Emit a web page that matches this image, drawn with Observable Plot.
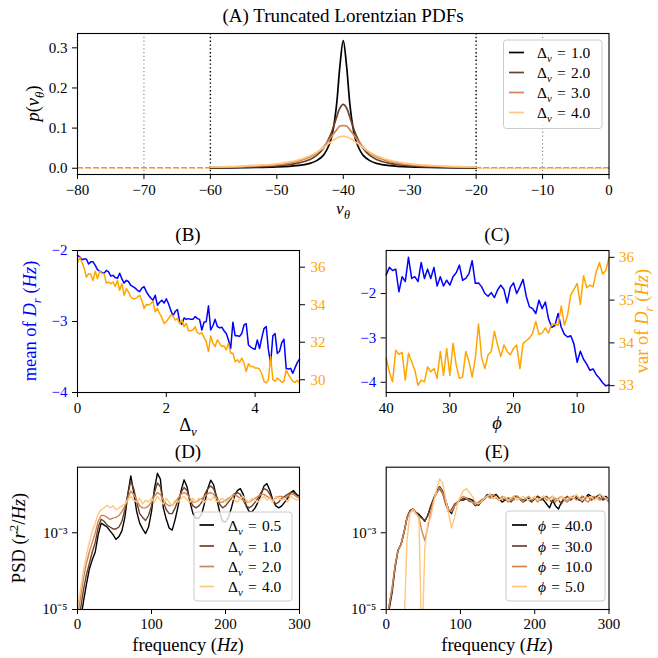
<!DOCTYPE html>
<html><head><meta charset="utf-8">
<script src="https://cdn.jsdelivr.net/npm/d3@7"></script>
<script src="https://cdn.jsdelivr.net/npm/@observablehq/plot@0.6"></script>
<style>
body{margin:0;background:#fff;}
#fig{position:relative;width:658px;height:658px;overflow:hidden;}
#fig svg{position:absolute;left:0;top:0;}
</style></head><body><div id="fig"></div>
<script>
// ---------- Panel A data ----------
const vTheta = [-60,-55,-50,-47,-45,-44,-43,-42,-41.5,-41,-40.5,-40,-39.5,-39,-38.5,-38,-37,-36,-35,-33,-30,-25,-20];
const pDv1 = [0.0008,0.0014,0.0032,0.0064,0.012,0.019,0.032,0.064,0.098,0.159,0.255,0.318,0.255,0.159,0.098,0.064,0.032,0.019,0.012,0.0064,0.0032,0.0014,0.0008];
const pDv2 = [0.0016,0.0028,0.0061,0.012,0.022,0.032,0.049,0.080,0.102,0.127,0.150,0.159,0.150,0.127,0.102,0.080,0.049,0.032,0.022,0.012,0.0061,0.0028,0.0016];
const pDv3 = [0.0024,0.0041,0.0088,0.0165,0.028,0.038,0.053,0.0735,0.085,0.0955,0.105,0.106,0.105,0.0955,0.085,0.0735,0.053,0.038,0.028,0.0165,0.0088,0.0041,0.0024];
const pDv4 = [0.0031,0.0053,0.011,0.0196,0.031,0.0398,0.051,0.0637,0.0697,0.0749,0.0784,0.080,0.0784,0.0749,0.0697,0.0637,0.051,0.0398,0.031,0.0196,0.011,0.0053,0.0031];
const dvLabelsA = ["1.0","2.0","3.0","4.0"];
const vRange = [-80, 0];
const truncBounds = [-60, -20];
const outerBounds = [-70, -10];
const vTicks = [-80,-70,-60,-50,-40,-30,-20,-10,0];
const pTicks = [0, 0.1, 0.2, 0.3];

// ---------- Panel B data ----------
const dvB = [0,0.05,0.1,0.15,0.2,0.25,0.3,0.35,0.4,0.45,0.5,0.55,0.6,0.65,0.7,0.75,0.8,0.85,0.9,0.95,
 1,1.05,1.1,1.15,1.2,1.25,1.3,1.35,1.4,1.45,1.5,1.55,1.6,1.65,1.7,1.75,1.8,1.85,1.9,1.95,
 2,2.05,2.1,2.15,2.2,2.25,2.3,2.35,2.4,2.45,2.5,2.55,2.6,2.65,2.7,2.75,2.8,2.85,2.9,2.95,
 3,3.05,3.1,3.15,3.2,3.25,3.3,3.35,3.4,3.45,3.5,3.55,3.6,3.65,3.7,3.75,3.8,3.85,3.9,3.95,
 4,4.05,4.1,4.15,4.2,4.25,4.3,4.35,4.4,4.45,4.5,4.55,4.6,4.65,4.7,4.75,4.8,4.85,4.9,4.95,5];
const meanDrB = [-2.07,-2.09,-2.13,-2.12,-2.12,-2.19,-2.16,-2.16,-2.21,-2.27,
 -2.29,-2.31,-2.32,-2.28,-2.30,-2.36,-2.35,-2.38,-2.39,-2.32,
 -2.40,-2.46,-2.42,-2.44,-2.49,-2.51,-2.53,-2.56,-2.58,-2.53,
 -2.51,-2.58,-2.63,-2.67,-2.70,-2.63,-2.77,-2.73,-2.70,-2.74,
 -2.68,-2.75,-2.84,-2.92,-2.86,-2.83,-3.00,-3.04,-2.95,-2.97,
 -2.96,-2.97,-2.97,-2.93,-2.96,-2.97,-3.12,-3.01,-3.00,-2.78,
 -3.12,-3.06,-2.97,-3.07,-3.09,-3.08,-3.13,-3.17,-3.26,-3.38,
 -3.01,-3.20,-3.20,-3.21,-3.17,-3.05,-3.03,-3.33,-3.36,-3.38,
 -3.39,-3.26,-3.38,-3.23,-3.10,-3.07,-3.40,-3.59,-3.20,-3.17,
 -3.45,-3.42,-3.30,-3.25,-3.66,-3.67,-3.66,-3.73,-3.65,-3.58,-3.53];
const varDrB = [36.26,36.53,36.26,35.96,35.47,35.65,35.61,35.29,35.79,35.38,
 35.79,35.68,35.65,35.15,35.21,35.12,35.21,34.98,35.29,34.77,
 35.12,34.50,34.85,34.68,34.41,34.32,34.32,34.41,34.50,34.24,
 33.80,34.02,33.97,34.06,34.20,33.62,33.80,33.53,33.32,33.00,
 33.09,33.27,33.44,33.44,33.18,33.27,33.00,33.18,32.83,33.00,
 32.61,32.61,32.65,32.83,32.51,32.44,32.51,32.26,32.03,31.50,
 32.33,31.94,31.77,32.12,31.94,31.77,31.80,31.59,31.94,31.41,
 31.41,30.97,31.06,30.92,31.15,30.89,30.44,30.85,30.71,30.71,
 30.62,30.62,30.57,30.32,29.92,29.83,30.00,31.24,30.00,29.92,
 30.09,30.00,29.86,29.92,30.53,30.27,30.09,29.92,29.86,29.97,29.83];
const dvTicksB = [0, 2, 4];
const meanTicksB = [-4, -3, -2];
const varTicksB = [30, 32, 34, 36];

// ---------- Panel C data ----------
const phiC = [40,39.5,39,38.5,38,37.5,37,36.5,36,35.5,35,34.5,34,33.5,33,32.5,32,31.5,31,30.5,
 30,29.5,29,28.5,28,27.5,27,26.5,26,25.5,25,24.5,24,23.5,23,22.5,22,21.5,21,20.5,
 20,19.5,19,18.5,18,17.5,17,16.5,16,15.5,15,14.5,14,13.5,13,12.5,12,11.5,11,10.5,
 10,9.5,9,8.5,8,7.5,7,6.5,6,5.5,5];
const meanDrC = [-1.58,-1.41,-1.48,-1.45,-1.96,-1.62,-1.73,-1.18,-1.66,-1.62,
 -1.73,-1.30,-1.66,-1.45,-1.66,-1.41,-1.83,-1.62,-1.83,-1.70,
 -1.81,-1.62,-1.53,-1.36,-1.70,-1.66,-1.55,-1.26,-1.77,-1.76,
 -1.85,-2.00,-2.06,-1.98,-2.09,-1.92,-1.81,-1.91,-2.21,-1.86,
 -1.76,-2.00,-1.85,-1.68,-2.06,-2.30,-2.34,-2.45,-2.15,-2.34,
 -2.19,-2.57,-2.76,-2.72,-2.45,-2.76,-2.92,-2.98,-2.95,-3.14,
 -3.55,-3.30,-3.48,-3.59,-3.73,-3.70,-3.83,-3.91,-4.01,-4.08,-4.06];
const varDrC = [33.64,33.32,33.09,33.83,33.73,33.78,33.13,33.76,33.56,33.36,
 33.01,33.13,33.09,33.44,33.32,33.40,33.17,33.80,33.24,33.87,
 33.24,33.99,33.48,33.17,33.20,33.80,33.56,33.20,33.64,34.44,
 33.65,33.40,33.72,33.80,34.27,33.95,33.68,33.95,33.80,33.72,
 33.87,33.95,33.40,33.99,34.05,34.11,34.23,34.50,34.20,34.23,
 34.35,34.23,34.44,34.44,34.41,34.86,34.41,34.66,35.13,35.25,
 35.39,34.90,35.57,35.29,35.35,35.31,35.67,35.88,35.61,35.69,36.00];
const phiTicksC = [40, 30, 20, 10];
const meanTicksC = [-4, -3, -2];
const varTicksC = [33, 34, 35, 36];

// ---------- Panels D & E data (PSD, stored as log10 values) ----------
const freqHz = [0,4,8,12,16,20,24,28,32,36,40,44,48,52,56,60,64,68,72,76,
 80,84,88,92,96,100,104,108,112,116,120,124,128,132,136,140,144,148,152,156,
 160,164,168,172,176,180,184,188,192,196,200,204,208,212,216,220,224,228,232,236,
 240,244,248,252,256,260,264,268,272,276,280,284,288,292,296,300];
const psdLog_dv05 = [-5.5,-5.3,-4.8,-4.35,-3.95,-3.7,-3.5,-3.05,-2.75,-2.8,
 -2.85,-2.95,-3.05,-3.17,-3.1,-2.95,-2.6,-2.0,-1.52,-1.95,
 -2.45,-2.75,-2.9,-3.02,-2.85,-2.45,-1.85,-1.45,-1.6,-2.35,
 -2.65,-2.88,-2.93,-2.65,-2.3,-1.9,-1.62,-1.8,-2.2,-2.5,
 -2.62,-2.62,-2.5,-2.2,-1.85,-1.63,-1.75,-2.1,-2.45,-2.7,
 -2.72,-2.6,-2.35,-2.05,-1.9,-1.85,-2.0,-2.3,-2.45,-2.45,
 -2.35,-2.2,-2.0,-1.78,-1.72,-1.9,-2.15,-2.3,-2.35,-2.3,
 -2.2,-2.1,-1.95,-1.9,-2.0,-2.05];
const psdLog_dv10 = [-5.5,-5.0,-4.5,-4.1,-3.8,-3.5,-3.25,-2.85,-2.65,-2.7,
 -2.8,-2.85,-2.9,-2.9,-2.85,-2.7,-2.4,-2.0,-1.65,-1.85,
 -2.2,-2.5,-2.6,-2.68,-2.55,-2.3,-1.95,-1.7,-1.8,-2.2,
 -2.4,-2.5,-2.5,-2.35,-2.15,-1.95,-1.82,-1.9,-2.15,-2.3,
 -2.35,-2.3,-2.2,-2.0,-1.85,-1.78,-1.85,-2.05,-2.25,-2.35,
 -2.3,-2.2,-2.1,-1.98,-1.95,-2.0,-2.15,-2.3,-2.35,-2.3,
 -2.2,-2.1,-1.95,-1.85,-1.88,-2.0,-2.15,-2.25,-2.2,-2.1,
 -2.05,-2.0,-1.95,-1.95,-2.05,-2.1];
const psdLog_dv20 = [-5.2,-4.7,-4.2,-3.8,-3.5,-3.25,-3.0,-2.7,-2.55,-2.55,
 -2.6,-2.65,-2.62,-2.6,-2.55,-2.45,-2.3,-2.1,-1.92,-2.0,
 -2.15,-2.3,-2.35,-2.35,-2.3,-2.2,-2.05,-1.95,-2.0,-2.15,
 -2.25,-2.3,-2.28,-2.2,-2.1,-2.0,-1.95,-2.0,-2.1,-2.2,
 -2.2,-2.15,-2.1,-2.05,-1.98,-1.95,-2.0,-2.1,-2.2,-2.2,
 -2.15,-2.1,-2.05,-2.0,-2.05,-2.1,-2.15,-2.2,-2.2,-2.15,
 -2.1,-2.05,-2.0,-2.0,-2.05,-2.1,-2.15,-2.1,-2.05,-2.05,
 -2.1,-2.05,-2.0,-2.0,-2.05,-2.1];
const psdLog_dv40 = [-4.9,-4.5,-4.0,-3.6,-3.25,-2.95,-2.75,-2.5,-2.4,-2.35,
 -2.28,-2.35,-2.3,-2.4,-2.35,-2.3,-2.25,-2.15,-2.05,-2.15,
 -2.2,-2.1,-2.25,-2.15,-2.2,-2.1,-2.2,-2.05,-2.15,-2.25,
 -2.1,-2.2,-2.3,-2.15,-2.2,-2.1,-2.05,-2.15,-2.2,-2.1,
 -2.2,-2.1,-2.15,-2.2,-2.1,-2.15,-2.05,-2.2,-2.15,-2.1,
 -2.2,-2.15,-2.05,-2.15,-2.2,-2.1,-2.05,-2.15,-2.2,-2.1,
 -2.15,-2.2,-2.1,-2.05,-2.15,-2.1,-2.2,-2.05,-2.1,-2.15,
 -2.1,-2.2,-2.05,-2.1,-2.15,-2.1];
const psdLog_phi40 = [-5.5,-5.0,-4.55,-3.9,-3.45,-3.3,-3.0,-2.6,-2.42,-2.38,
 -2.47,-2.52,-2.6,-2.7,-2.55,-2.3,-2.1,-1.92,-1.8,-1.92,
 -2.15,-2.4,-2.5,-2.3,-2.2,-2.15,-2.15,-2.1,-2.12,-2.15,
 -2.2,-2.28,-2.2,-2.12,-2.05,-2.0,-2.05,-2.0,-2.1,-2.2,
 -2.15,-2.1,-2.12,-2.05,-2.05,-2.12,-2.2,-2.15,-2.1,-2.18,
 -2.12,-2.05,-2.1,-2.15,-2.25,-2.35,-2.15,-2.3,-2.38,-2.2,
 -2.1,-2.15,-2.1,-2.05,-2.1,-2.15,-2.05,-2.1,-2.0,-2.05,
 -2.1,-2.05,-2.0,-2.1,-2.05,-2.15];
const psdLog_phi30 = [-5.4,-4.9,-4.45,-3.85,-3.45,-3.3,-2.98,-2.62,-2.45,-2.4,
 -2.5,-2.55,-2.62,-2.68,-2.55,-2.32,-2.12,-1.95,-1.85,-1.98,
 -2.25,-2.45,-2.4,-2.25,-2.2,-2.15,-2.1,-2.12,-2.18,-2.2,
 -2.3,-2.25,-2.15,-2.1,-2.0,-2.05,-2.1,-2.05,-2.15,-2.1,
 -2.15,-2.1,-2.2,-2.1,-2.05,-2.1,-2.15,-2.1,-2.15,-2.2,
 -2.1,-2.05,-2.15,-2.1,-2.05,-2.15,-2.2,-2.1,-2.15,-2.25,
 -2.1,-2.05,-2.15,-2.1,-2.05,-2.1,-2.2,-2.1,-2.05,-2.15,
 -2.1,-2.05,-2.1,-2.15,-2.1,-2.2];
const psdLog_phi10 = [-5.4,-4.9,-4.45,-3.85,-3.45,-3.3,-3.0,-2.62,-2.45,-2.38,
 -2.48,-2.6,-2.95,-3.2,-2.85,-2.45,-2.15,-1.95,-1.82,-1.95,
 -2.2,-2.4,-2.45,-2.3,-2.2,-2.1,-2.05,-2.1,-2.15,-2.2,
 -2.25,-2.2,-2.15,-2.1,-2.05,-2.1,-2.0,-2.1,-2.15,-2.05,
 -2.1,-2.2,-2.1,-2.15,-2.05,-2.1,-2.2,-2.1,-2.05,-2.15,
 -2.1,-2.2,-2.1,-2.05,-2.15,-2.1,-2.05,-2.2,-2.1,-2.05,
 -2.15,-2.2,-2.1,-2.05,-2.15,-2.1,-2.05,-2.15,-2.2,-2.1,
 -2.05,-2.1,-2.15,-2.05,-2.1,-2.2];
const psdLog_phi5 = [-6,-6,-6,-6,-6,-6,-5.5,-3.2,-2.5,-2.4,
 -2.5,-2.6,-6,-3.4,-2.75,-2.6,-2.2,-1.85,-1.6,-1.7,
 -2.1,-2.5,-2.88,-2.6,-2.25,-2.05,-1.9,-1.85,-1.95,-2.05,
 -2.2,-2.25,-2.2,-2.1,-2.05,-2.0,-2.1,-2.05,-2.15,-2.1,
 -2.05,-2.15,-2.1,-2.05,-2.15,-2.1,-2.05,-2.1,-2.15,-2.1,
 -2.05,-2.15,-2.1,-2.05,-2.1,-2.15,-2.05,-2.1,-2.15,-2.05,
 -2.1,-2.15,-2.05,-2.1,-2.0,-2.1,-2.15,-2.05,-2.1,-2.05,
 -2.15,-2.1,-2.0,-2.05,-2.1,-2.15];
const dvLabelsD = ["0.5","1.0","2.0","4.0"];
const phiLabelsE = ["40.0","30.0","10.0","5.0"];
const freqTicks = [0, 100, 200, 300];
const psdTicks = [1e-5, 1e-3];
const psdDomain = [1e-5, 0.0512];

// ---------- styling ----------
const copper = ["#000000", "#6a4229", "#d48555", "#ffc77f"];
const FONT = '"Liberation Serif","Times New Roman",serif';
const TICK = 15, LAB = 18.5, TITLE = 19, LEG = 15.5;
const fig = document.getElementById("fig");
const minus = d => (d < 0 ? "\u2212" + Math.abs(d) : String(d));
const supMap = {"-":"\u207B","0":"\u2070","1":"\u00B9","2":"\u00B2","3":"\u00B3","4":"\u2074","5":"\u2075","6":"\u2076","7":"\u2077","8":"\u2078","9":"\u2079"};
const logFmt = d => "10" + String(Math.round(Math.log10(d))).split("").map(c => supMap[c]).join("");
const box = (l, r, t, b) => ({marginLeft: l, marginRight: 658 - r, marginTop: t, marginBottom: 658 - b});
function place(opts) {
  const svg = Plot.plot({width: 658, height: 658, ...opts,
    style: {background: "transparent", fontFamily: FONT, fontSize: TICK + "px", overflow: "visible"}});
  fig.appendChild(svg);
  return svg;
}
const ax = {tickSize: 5, tickPadding: 5, label: null, fontSize: TICK, tickFormat: minus};

// ---------- Panel A ----------
const rowsA = [pDv1, pDv2, pDv3, pDv4].flatMap((arr, k) => arr.map((p, i) => ({v: vTheta[i], p, s: dvLabelsA[k]})));
const segA = dvLabelsA.flatMap(s => [{a: vRange[0], b: truncBounds[0], p: 0, s}, {a: truncBounds[1], b: vRange[1], p: 0, s}]);
const A = box(77, 608.5, 33, 174);
place({...A,
  x: {domain: vRange}, y: {domain: [-0.0156, 0.3357]},
  color: {domain: dvLabelsA, range: copper},
  marks: [
    Plot.ruleX(outerBounds, {stroke: "#808080", strokeDasharray: "1.2,2.6", strokeWidth: 1.1}),
    Plot.ruleX(truncBounds, {stroke: "black", strokeDasharray: "1.4,2.4", strokeWidth: 1.4}),
    Plot.ruleY(segA, {x1: "a", x2: "b", y: "p", stroke: "s", strokeWidth: 1.6, strokeDasharray: "5.5,2.5"}),
    Plot.line(rowsA, {x: "v", y: "p", z: "s", stroke: "s", strokeWidth: 1.7, curve: "catmull-rom"}),
    Plot.axisX({...ax, ticks: vTicks, tickPadding: 5}),
    Plot.axisY({...ax, ticks: pTicks, tickFormat: d => d.toFixed(1)}),
    Plot.frame({stroke: "black", strokeWidth: 1.1})
  ]});

// ---------- Panel B ----------
const rowsB = dvB.map((d, i) => ({d, m: meanDrB[i], v: varDrB[i]}));
const B = box(77, 299, 250, 392);
place({...B, x: {domain: [0, 5]}, y: {domain: [-4, -2]},
  marks: [
    Plot.line(rowsB, {x: "d", y: "m", stroke: "blue", strokeWidth: 1.5}),
    Plot.axisX({...ax, ticks: dvTicksB}),
    Plot.axisY({...ax, anchor: "left", ticks: meanTicksB, fill: "blue", stroke: "black"})
  ]});
place({...B, x: {domain: [0, 5], axis: null}, y: {domain: [29.32, 36.89]},
  marks: [
    Plot.line(rowsB, {x: "d", y: "v", stroke: "orange", strokeWidth: 1.5}),
    Plot.axisY({...ax, anchor: "right", ticks: varTicksB, fill: "orange", stroke: "black", tickPadding: 6}),
    Plot.frame({stroke: "black", strokeWidth: 1.1})
  ]});

// ---------- Panel C ----------
const rowsC = phiC.map((p, i) => ({p, m: meanDrC[i], v: varDrC[i]}));
const C = box(385.7, 608.5, 250, 392);
place({...C, x: {domain: [40, 5]}, y: {domain: [-4.23, -1.03]},
  marks: [
    Plot.line(rowsC, {x: "p", y: "m", stroke: "blue", strokeWidth: 1.5}),
    Plot.axisX({...ax, ticks: phiTicksC}),
    Plot.axisY({...ax, anchor: "left", ticks: meanTicksC, fill: "blue", stroke: "black"})
  ]});
place({...C, x: {domain: [40, 5], axis: null}, y: {domain: [32.84, 36.16]},
  marks: [
    Plot.line(rowsC, {x: "p", y: "v", stroke: "orange", strokeWidth: 1.5}),
    Plot.axisY({...ax, anchor: "right", ticks: varTicksC, fill: "orange", stroke: "black", tickPadding: 5}),
    Plot.frame({stroke: "black", strokeWidth: 1.1})
  ]});

// ---------- Panels D & E ----------
function psdRows(series, labels) {
  return series.flatMap((arr, k) => arr.map((e, i) => ({f: freqHz[i], psd: Math.pow(10, e), s: labels[k]})));
}
const rowsD = psdRows([psdLog_dv05, psdLog_dv10, psdLog_dv20, psdLog_dv40], dvLabelsD);
const rowsE = psdRows([psdLog_phi40, psdLog_phi30, psdLog_phi10, psdLog_phi5], phiLabelsE);
function psdPanel(frame, rows, labels) {
  place({...frame, x: {domain: [0, 300]}, y: {type: "log", domain: psdDomain},
    color: {domain: labels, range: copper},
    marks: [
      Plot.line(rows, {x: "f", y: "psd", z: "s", stroke: "s", strokeWidth: 1.4, clip: true}),
      Plot.axisX({...ax, ticks: freqTicks, tickPadding: 4}),
      Plot.axisY({...ax, ticks: psdTicks, tickFormat: logFmt}),
      Plot.frame({stroke: "black", strokeWidth: 1.1})
    ]});
}
psdPanel(box(77, 299, 466.7, 609), rowsD, dvLabelsD);
psdPanel(box(385.7, 608.5, 466.7, 609), rowsE, phiLabelsE);

// ---------- Annotations: titles, axis labels, legends ----------
const ann = d3.select(fig).append("svg").attr("width", 658).attr("height", 658)
  .attr("font-family", FONT);
function rich(x, y, parts, {size = LAB, fill = "black", anchor = "middle", rotate = 0} = {}) {
  const t = ann.append("text").attr("transform", `translate(${x},${y}) rotate(${rotate})`)
    .attr("text-anchor", anchor).attr("font-size", size).attr("fill", fill);
  let shift = 0;
  for (const p of parts) {
    const target = p.sub ? 0.26 * size : p.sup ? -0.4 * size : 0;
    const s = t.append("tspan").text(p.t).attr("dy", target - shift);
    shift = target;
    if (p.i) s.attr("font-style", "italic");
    if (p.sub || p.sup) s.attr("font-size", size * 0.7);
  }
  return t;
}
const Hz = [{t: "("}, {t: "Hz", i: 1}, {t: ")"}];
// titles
rich(343, 21.5, [{t: "(A) Truncated Lorentzian PDFs"}], {size: TITLE});
rich(188, 241, [{t: "(B)"}], {size: TITLE});
rich(497, 241, [{t: "(C)"}], {size: TITLE});
rich(188, 458, [{t: "(D)"}], {size: TITLE});
rich(497, 458, [{t: "(E)"}], {size: TITLE});
// axis labels
rich(343, 214, [{t: "v", i: 1}, {t: "\u03B8", i: 1, sub: 1}], {size: 17.5});
rich(39, 103.5, [{t: "p", i: 1}, {t: "("}, {t: "v", i: 1}, {t: "\u03B8", i: 1, sub: 1}, {t: ")"}], {rotate: -90});
rich(188, 431, [{t: "\u0394"}, {t: "v", i: 1, sub: 1}]);
rich(36, 321, [{t: "mean of "}, {t: "D", i: 1}, {t: "r", i: 1, sub: 1}, {t: " "}, ...Hz], {rotate: -90, fill: "blue"});
rich(497, 429, [{t: "\u03D5", i: 1}]);
rich(648, 321, [{t: "var of "}, {t: "D", i: 1}, {t: "r", i: 1, sub: 1}, {t: " "}, ...Hz], {rotate: -90, fill: "orange"});
rich(188, 651, [{t: "frequency "}, ...Hz]);
rich(497, 651, [{t: "frequency "}, ...Hz]);
rich(25, 538, [{t: "PSD ("}, {t: "r", i: 1}, {t: "2", sup: 1}, {t: "/"}, {t: "Hz", i: 1}, {t: ")"}], {rotate: -90});

// legends
function legend(x0, y0, w, h, rowY, lx0, lx1, tx, sym, labels) {
  ann.append("rect").attr("x", x0).attr("y", y0).attr("width", w).attr("height", h)
    .attr("rx", 3).attr("fill", "white").attr("fill-opacity", 0.8).attr("stroke", "#cccccc").attr("stroke-width", 1);
  labels.forEach((lab, k) => {
    ann.append("line").attr("x1", lx0).attr("x2", lx1).attr("y1", rowY[k]).attr("y2", rowY[k])
      .attr("stroke", copper[k]).attr("stroke-width", 1.7);
    rich(tx, rowY[k] + 5.5, [...sym, {t: "\u2004=\u2004" + lab}], {anchor: "start", size: LEG});
  });
}
const dvSym = [{t: "\u0394"}, {t: "v", i: 1, sub: 1}];
const phiSym = [{t: "\u03D5", i: 1}];
legend(503.5, 40, 98.5, 88.5, [52.5, 72.5, 92.5, 112.5], 509, 524, 537, dvSym, dvLabelsA);
legend(194, 512, 98, 89, [525, 546, 566.5, 586.5], 199.5, 214, 228, dvSym, dvLabelsD);
legend(506, 511, 99, 90, [525, 546, 566.5, 586.5], 512, 527, 538, phiSym, phiLabelsE);
</script></body></html>
